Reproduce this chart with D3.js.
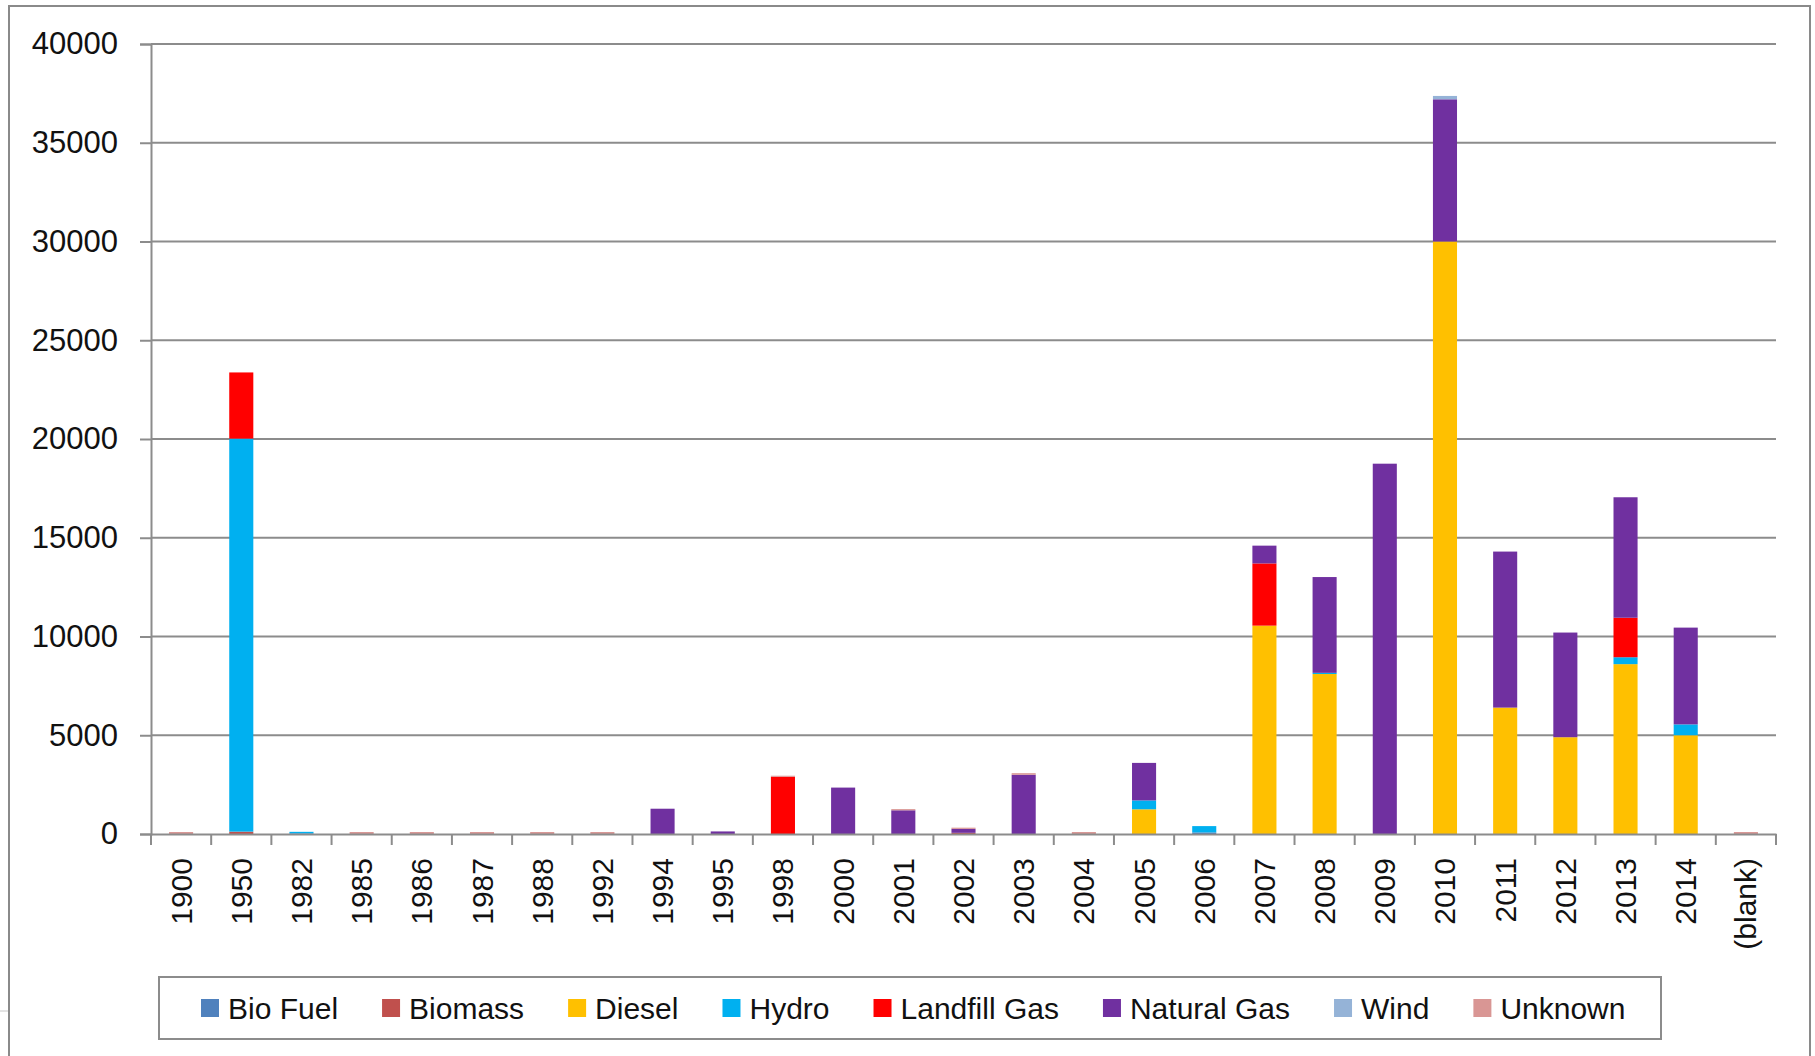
<!DOCTYPE html>
<html>
<head>
<meta charset="utf-8">
<script src="https://cdn.jsdelivr.net/npm/d3@7"></script>
<style>
  html, body { margin: 0; padding: 0; background: #ffffff; }
  svg { display: block; }
  text { font-family: "Liberation Sans", Arial, sans-serif; fill: #111111; }
</style>
</head>
<body>
<svg id="chart" width="1815" height="1056"></svg>
<script>
// ---------- data ----------
const categories = ["1900","1950","1982","1985","1986","1987","1988","1992","1994","1995","1998",
  "2000","2001","2002","2003","2004","2005","2006","2007","2008","2009","2010","2011","2012","2013","2014","(blank)"];

const seriesNames = ["Bio Fuel","Biomass","Diesel","Hydro","Landfill Gas","Natural Gas","Wind","Unknown"];
const seriesColors = ["#4F81BD","#C0504D","#FFC000","#00B0F0","#FF0000","#7030A0","#95B3D7","#D99694"];

const bioFuel    = [0,0,30,0,0,0,0,0,0,0,0, 0,0,0,0,0,0,80,0,0,0,0,0,0,0,0,0];
const biomass    = [0,120,0,0,0,0,0,0,0,0,0, 0,0,60,0,0,0,0,0,0,0,0,0,0,0,0,0];
const diesel     = [0,0,0,0,0,0,0,0,0,0,0, 0,0,0,0,0,1250,0,10550,8100,0,30000,6400,4900,8600,5000,0];
const hydro      = [0,19900,80,0,0,0,0,0,0,0,0, 0,0,0,0,0,450,320,0,60,0,0,0,0,350,550,0];
const landfillGas= [0,3350,0,0,0,0,0,0,0,0,2900, 0,0,0,0,0,0,0,3150,0,0,0,0,0,2000,0,0];
const naturalGas = [0,0,0,0,0,0,0,0,1280,130,0, 2350,1200,200,3000,0,1900,0,900,4850,18750,7200,7900,5300,6100,4900,0];
const wind       = [0,0,0,0,0,0,0,0,0,0,0, 0,0,0,0,0,0,0,0,0,0,170,0,0,0,0,0];
const unknown    = [100,0,0,100,100,100,100,100,0,0,50, 0,60,60,80,100,0,0,0,0,0,0,0,0,0,0,100];

const seriesValues = [bioFuel, biomass, diesel, hydro, landfillGas, naturalGas, wind, unknown];
const yTicks = [0,5000,10000,15000,20000,25000,30000,35000,40000];

// ---------- layout ----------
const svg = d3.select("#chart");
const plot = { left: 151, right: 1776, top: 44, bottom: 834 };

// outer chart border
svg.append("rect").attr("x", 9).attr("y", 6).attr("width", 1801).attr("height", 1080)
  .attr("fill", "none").attr("stroke", "#8a8a8a").attr("stroke-width", 2);
svg.append("line").attr("x1", 0).attr("x2", 8).attr("y1", 1011).attr("y2", 1011)
  .attr("stroke", "#c8c8c8").attr("stroke-width", 1);

const x = d3.scaleBand().domain(categories).range([plot.left, plot.right]).paddingInner(0.6).paddingOuter(0.3);
const xTickScale = d3.scaleBand().domain(categories).range([plot.left, plot.right]);
const y = d3.scaleLinear().domain([0, 40000]).range([plot.bottom, plot.top]);

// gridlines
svg.append("g").selectAll("line").data(yTicks.filter(d => d > 0)).join("line")
  .attr("x1", plot.left).attr("x2", plot.right)
  .attr("y1", d => y(d)).attr("y2", d => y(d))
  .attr("stroke", "#8c8c8c").attr("stroke-width", 2);

// y axis
const yAxis = d3.axisLeft(y).tickValues(yTicks).tickSize(11).tickPadding(22).tickFormat(d3.format("d"));
const gy = svg.append("g").attr("transform", `translate(${plot.left},0)`).call(yAxis);
gy.select(".domain").attr("stroke", "#8c8c8c").attr("stroke-width", 2);
gy.selectAll(".tick line").attr("stroke", "#8c8c8c").attr("stroke-width", 2);
gy.selectAll(".tick text").attr("font-size", 31).attr("font-family", "Liberation Sans, Arial, sans-serif")
  .attr("fill", "#111");

// stacked bars
const table = categories.map((c, i) => {
  const row = { cat: c };
  seriesNames.forEach((s, j) => { row[s] = seriesValues[j][i]; });
  return row;
});
const stack = d3.stack().keys(seriesNames)(table);

svg.append("g").selectAll("g").data(stack).join("g")
  .attr("fill", (d, i) => seriesColors[i])
  .selectAll("rect").data(d => d).join("rect")
  .attr("x", d => x(d.data.cat))
  .attr("width", x.bandwidth())
  .attr("y", d => y(d[1]))
  .attr("height", d => Math.max(0, y(d[0]) - y(d[1])));

// x axis
const xAxis = d3.axisBottom(xTickScale).tickSize(0).tickFormat(d => d);
const gx = svg.append("g").attr("transform", `translate(0,${plot.bottom})`).call(xAxis);
gx.select(".domain").attr("stroke", "#8c8c8c").attr("stroke-width", 2);
gx.selectAll(".tick text")
  .attr("font-size", 30).attr("font-family", "Liberation Sans, Arial, sans-serif").attr("fill", "#111")
  .attr("text-anchor", "end")
  .attr("transform", "rotate(-90)")
  .attr("x", -24).attr("y", 0).attr("dy", "0.35em");
// category separator ticks
const sepPositions = categories.map(c => xTickScale(c)).concat([plot.right]);
svg.append("g").selectAll("line").data(sepPositions).join("line")
  .attr("x1", d => d).attr("x2", d => d)
  .attr("y1", plot.bottom).attr("y2", plot.bottom + 11)
  .attr("stroke", "#8c8c8c").attr("stroke-width", 2);

// legend
const legend = svg.append("g");
legend.append("rect").attr("x", 159).attr("y", 977).attr("width", 1502).attr("height", 62)
  .attr("fill", "#fff").attr("stroke", "#8c8c8c").attr("stroke-width", 2);
let lx = 201;
seriesNames.forEach((s, i) => {
  legend.append("rect").attr("x", lx).attr("y", 999).attr("width", 18).attr("height", 18)
    .attr("fill", seriesColors[i]);
  const t = legend.append("text").attr("x", lx + 27).attr("y", 1008).attr("dy", "0.35em")
    .attr("font-size", 30).text(s);
  lx = lx + 27 + t.node().getComputedTextLength() + 44;
});
</script>
</body>
</html>
